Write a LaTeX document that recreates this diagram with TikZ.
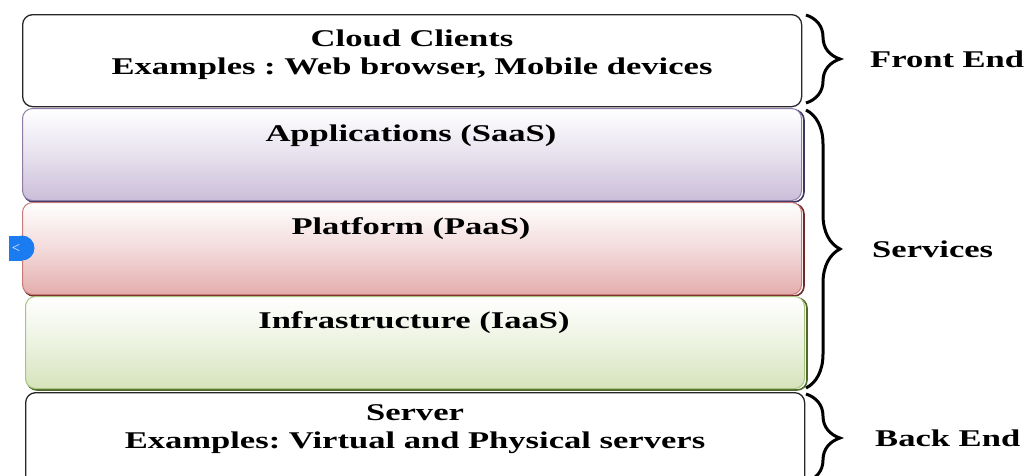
\documentclass[tikz,border=0pt]{standalone}
\usepackage{graphicx}
\usepackage{fontspec}
\setmainfont{Liberation Serif}
\usetikzlibrary{decorations.pathreplacing}
\frenchspacing

\definecolor{saasfill}{HTML}{CBBDD9}
\definecolor{saasline}{HTML}{8C7DA8}
\definecolor{saasedge}{HTML}{3F3660}
\definecolor{paasfill}{HTML}{E3AEAD}
\definecolor{paasline}{HTML}{C77A78}
\definecolor{paasedge}{HTML}{6E2A28}
\definecolor{iaasfill}{HTML}{D6E3BB}
\definecolor{iaasline}{HTML}{A9C27F}
\definecolor{iaasedge}{HTML}{4F6A2A}
\definecolor{tabblue}{HTML}{1A7CF0}

% broad bold lettering
\newcommand{\wide}[1]{\scalebox{1.44}[1]{#1}}

\begin{document}
\begin{tikzpicture}[x=1pt,y=-1pt,
  layer/.style={rounded corners=10pt, minimum width=779pt, minimum height=92pt,
    inner sep=0pt, anchor=north west},
  plainlayer/.style={layer, draw=black!85, line width=1.3pt, fill=white},
  tinted/.style n args={3}{layer, draw=#2, line width=1pt,
    top color=white, bottom color=#1, middle color=#1!45},
  edge/.style={draw=#1, line width=1.6pt, rounded corners=10pt},
  caption/.style={font=\fontsize{24}{28}\selectfont\bfseries, align=center, inner sep=0pt},
  sidelabel/.style={font=\fontsize{24}{28}\selectfont\bfseries, anchor=west, inner sep=0pt},
  curly/.style={decorate, decoration={brace, amplitude=34pt, aspect=0.5}, line width=3pt}
]
\useasboundingbox (0,0) rectangle (1025,475);

% dark bevel edges behind the coloured service layers
\path[edge=saasedge] (24,110) rectangle (804,202);
\path[edge=paasedge] (24,204) rectangle (804,296);
\path[edge=iaasedge] (27,298) rectangle (807,390);

% stacked layers
\node[plainlayer] (client) at (22,14) {};
\node[tinted={saasfill}{saasline}{}] (saas) at (22,108) {};
\node[tinted={paasfill}{paasline}{}] (paas) at (22,202) {};
\node[tinted={iaasfill}{iaasline}{}] (iaas) at (25,296) {};
\node[plainlayer, minimum height=100pt] (server) at (25,392) {};

% layer captions
\node[caption] (clienttxt) at (412,55) {\wide{Cloud Clients}\\\wide{Examples : Web browser, Mobile devices}};
\node[caption] (saastxt) at (411,136) {\wide{Applications (SaaS)}};
\node[caption] (paastxt) at (411,229) {\wide{Platform (PaaS)}};
\node[caption] (iaastxt) at (414,323) {\wide{Infrastructure (IaaS)}};
\node[caption] (servertxt) at (415,429) {\wide{Server}\\\wide{Examples: Virtual and Physical servers}};

% grouping braces
\coordinate (fetop) at (806,15);
\coordinate (febot) at (806,103);
\coordinate (svtop) at (806,110);
\coordinate (svbot) at (806,388);
\coordinate (betop) at (806,394);
\coordinate (bebot) at (806,482);
\draw[curly] (fetop) -- (febot);
\draw[curly] (svtop) -- (svbot);
\draw[curly] (betop) -- (bebot);

\node[sidelabel] (fe) at (870,59) {\wide{Front End}};
\node[sidelabel] (sv) at (872,249) {\wide{Services}};
\node[sidelabel] (be) at (875,438) {\wide{Back End}};

% side tab
\fill[tabblue] (22,248) circle (12.5);
\fill[tabblue] (9,235.5) rectangle (22,260.5);
\node[text=white, font=\sffamily\bfseries\fontsize{10}{10}\selectfont, inner sep=0pt] (tab) at (16,248) {<};
\end{tikzpicture}
\end{document}
